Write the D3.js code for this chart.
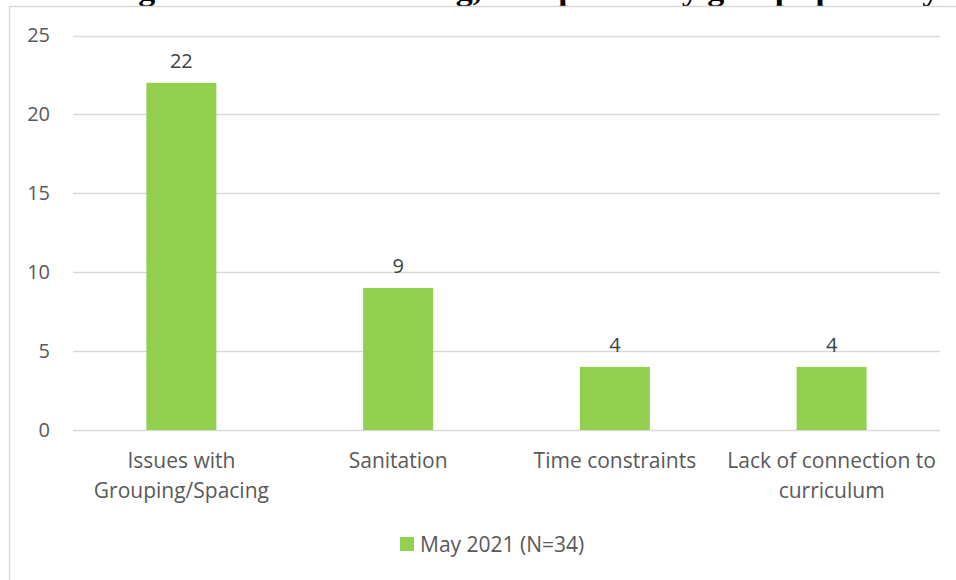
<!DOCTYPE html>
<html><head><meta charset="utf-8">
<script src="https://cdn.jsdelivr.net/npm/d3@7"></script>
<style>
html,body{margin:0;padding:0;background:#fff;}
svg{display:block;}
</style></head>
<body>
<svg id="chart" width="956" height="580"></svg>
<script>
const categories = [["Issues with","Grouping/Spacing"],["Sanitation"],["Time constraints"],["Lack of connection to","curriculum"]];
const values = [22, 9, 4, 4];
const yTicks = [0, 5, 10, 15, 20, 25];
const seriesName = "May 2021 (N=34)";
const titleText = "Figure 8: Challenges in outdoor learning, as reported by group spaces by category";

const svg = d3.select("#chart");
const W = 956, H = 580;
const font = "'Open Sans', sans-serif";
const fsText = 21, fsNum = 20;
const barColor = "#92D050";

// title (clipped at top, as in the reference)
svg.append("text").attr("x", 478).attr("y", 0).attr("text-anchor","middle")
  .attr("font-family","'Liberation Serif', serif").attr("font-weight","bold").attr("font-size",34)
  .attr("fill","#000").text(titleText);

// chart frame
svg.append("rect").attr("x",9.5).attr("y",6.5).attr("width",W+20).attr("height",H+20)
  .attr("fill","#fff").attr("stroke","#d9d9d9").attr("stroke-width",1.5);

const x = d3.scaleBand().domain(d3.range(categories.length)).range([73, 940]).padding(0);
const y = d3.scaleLinear().domain([0, 25]).range([430, 35.5]);

// gridlines
svg.append("g").selectAll("line").data(yTicks).join("line")
  .attr("x1",73).attr("x2",940).attr("y1",d=>Math.round(y(d))+0.5).attr("y2",d=>Math.round(y(d))+0.5)
  .attr("stroke","#d9d9d9").attr("stroke-width",1.3);

// y axis
const yAxis = d3.axisLeft(y).tickValues(yTicks).tickSize(0).tickPadding(0);
const yg = svg.append("g").attr("transform","translate(50,0)").call(yAxis);
yg.select(".domain").remove();
yg.selectAll("text").attr("font-family",font).attr("font-size",fsNum).attr("fill","#595959");

// bars
const bw = 70;
svg.append("g").selectAll("rect").data(values).join("rect")
  .attr("x",(d,i)=>x(i)+x.bandwidth()/2-bw/2).attr("width",bw)
  .attr("y",d=>y(d)).attr("height",d=>y(0)-y(d)).attr("fill",barColor);

// value labels
svg.append("g").selectAll("text").data(values).join("text")
  .attr("x",(d,i)=>x(i)+x.bandwidth()/2).attr("y",d=>y(d)-15)
  .attr("text-anchor","middle").attr("font-family",font).attr("font-size",fsNum).attr("fill","#404040")
  .text(d=>d);

// category labels
const cg = svg.append("g").selectAll("text").data(categories).join("text")
  .attr("x",(d,i)=>x(i)+x.bandwidth()/2).attr("y",468)
  .attr("text-anchor","middle").attr("font-family",font).attr("font-size",fsText).attr("fill","#595959");
cg.selectAll("tspan").data((d,i)=>d.map(t=>({t,i}))).join("tspan")
  .attr("x",d=>x(d.i)+x.bandwidth()/2).attr("dy",(d,j)=>j===0?0:30).text(d=>d.t);

// legend
svg.append("rect").attr("x",400).attr("y",537).attr("width",14).attr("height",14).attr("fill",barColor);
svg.append("text").attr("x",420).attr("y",552).attr("font-family",font).attr("font-size",fsText).attr("fill","#595959").text(seriesName);
</script>
</body></html>
